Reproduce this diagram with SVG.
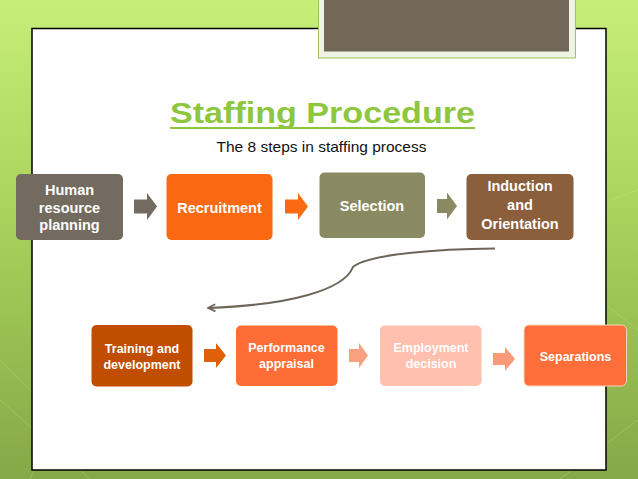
<svg xmlns="http://www.w3.org/2000/svg" width="638" height="479" viewBox="0 0 638 479">
<defs>
<linearGradient id="bg" x1="0" y1="0" x2="0" y2="1">
<stop offset="0" stop-color="#c6ee78"/>
<stop offset="0.45" stop-color="#a8d25c"/>
<stop offset="1" stop-color="#86a848"/>
</linearGradient>
<marker id="ah" viewBox="0 0 10 10" refX="8" refY="5" markerWidth="4.5" markerHeight="4.5" orient="auto">
<path d="M1,1 L9,5 L1,9" fill="none" stroke="#6d655a" stroke-width="2"/>
</marker>
<style>
.t{font-family:"Liberation Sans",Arial,sans-serif;font-weight:bold;fill:#ffffff;text-anchor:middle}
.n1{font-size:14.5px}
.n2{font-size:12.5px}
</style>
</defs>
<rect width="638" height="479" fill="url(#bg)"/>
<g stroke="#d8f0a8" stroke-opacity="0.25" stroke-width="1" fill="none">
<path d="M0,360 L60,420 L30,479"/>
<path d="M0,400 L90,479"/>
<path d="M560,479 L638,420"/>
<path d="M600,300 L638,330"/>
<path d="M610,200 L638,190"/>
</g>
<rect x="32" y="28.5" width="574" height="441.5" fill="#ffffff" stroke="#000000" stroke-width="1.5"/>
<rect x="318.5" y="-2" width="257" height="60" fill="#eef3e4" stroke="#9dc25a" stroke-width="1"/>
<rect x="324" y="-2" width="245" height="53.5" fill="#716858"/>
<g id="title">
<text x="322.5" y="123" font-family="'Liberation Sans',Arial,sans-serif" font-weight="bold" font-size="30" fill="#8ec63f" text-anchor="middle" textLength="305" lengthAdjust="spacingAndGlyphs">Staffing Procedure</text>
<rect x="170" y="127" width="305" height="2" fill="#8ec63f"/>
<text x="321.5" y="152" font-family="'Liberation Sans',Arial,sans-serif" font-size="14.5" fill="#111111" text-anchor="middle" textLength="210" lengthAdjust="spacingAndGlyphs">The 8 steps in staffing process</text>
</g>
<g id="connectors">
<path d="M134,199.5 H147 V193 L157,206.5 L147,220 V213.5 H134 Z" fill="#736b5f"/>
<path d="M285,199.5 H298 V193 L308,206.5 L298,220 V213.5 H285 Z" fill="#fb6a12"/>
<path d="M437,199 H447 V192.5 L457,206 L447,219.5 V213 H437 Z" fill="#8a8a62"/>
<path d="M204,349 H216 V343 L226,355.5 L216,368 V362 H204 Z" fill="#e0600a"/>
<path d="M349,349 H359 V343 L368,355.5 L359,368 V362 H349 Z" fill="#f8a080"/>
<path d="M493,353 H505 V347 L515,359 L505,371 V365 H493 Z" fill="#fb9a78"/>
<path d="M495,248.5 C440,249 368,254 353,267 C 344,290 290,305 209,308" fill="none" stroke="#6d655a" stroke-width="2" marker-end="url(#ah)"/>
</g>
<g id="n1">
<rect x="16" y="174" width="107" height="66" rx="5" fill="#736b5f"/>
<text class="t n1" x="69.5" y="195">Human</text>
<text class="t n1" x="69.5" y="212.5">resource</text>
<text class="t n1" x="69.5" y="230">planning</text>
</g>
<g id="n2">
<rect x="166.5" y="174" width="106" height="66" rx="5" fill="#fb6a12"/>
<text class="t n1" x="219.5" y="213">Recruitment</text>
</g>
<g id="n3">
<rect x="319.5" y="172.5" width="105.5" height="65.5" rx="5" fill="#8a8a62"/>
<text class="t n1" x="372" y="210.5">Selection</text>
</g>
<g id="n4">
<rect x="466.5" y="174" width="107" height="66" rx="5" fill="#8b5e3c"/>
<text class="t n1" x="520" y="191">Induction</text>
<text class="t n1" x="520" y="210">and</text>
<text class="t n1" x="520" y="228.5">Orientation</text>
</g>
<g id="n5">
<rect x="91.5" y="325" width="101" height="61.5" rx="5" fill="#c04d00"/>
<text class="t n2" x="142" y="352.5">Training and</text>
<text class="t n2" x="142" y="368.5">development</text>
</g>
<g id="n6">
<rect x="236" y="325.5" width="101.5" height="60.5" rx="5" fill="#fe6d36"/>
<text class="t n2" x="286.5" y="352">Performance</text>
<text class="t n2" x="286.5" y="367.5">appraisal</text>
</g>
<g id="n7">
<rect x="380" y="325.5" width="101.5" height="60.5" rx="5" fill="#ffc0b0"/>
<text class="t n2" x="431" y="352">Employment</text>
<text class="t n2" x="431" y="367.5">decision</text>
</g>
<g id="n8">
<rect x="524" y="325" width="102.5" height="61" rx="5" fill="#fd6e3a" stroke="#f6d8b8" stroke-width="1"/>
<text class="t n2" x="575.5" y="360.5">Separations</text>
</g>
</svg>
